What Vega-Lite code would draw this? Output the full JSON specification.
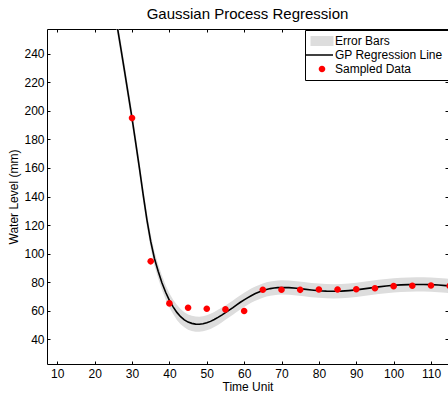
{
  "$schema": "https://vega.github.io/schema/vega-lite/v6.json",
  "width": 401,
  "height": 335,
  "autosize": {"type": "none"},
  "padding": {"left": 47, "top": 29, "right": 0, "bottom": 33},
  "background": "white",
  "title": {
    "text": "Gaussian Process Regression",
    "font": "Liberation Sans",
    "fontSize": 15,
    "fontWeight": "normal",
    "color": "black",
    "anchor": "middle",
    "frame": "group",
    "baseline": "alphabetic",
    "offset": -5
  },
  "config": {
    "view": {"stroke": null},
    "axis": {
      "labelFont": "Liberation Sans",
      "labelFontSize": 12,
      "labelColor": "black",
      "titleFont": "Liberation Sans",
      "titleFontSize": 12,
      "titleFontWeight": "normal",
      "titleColor": "black",
      "domainColor": "black",
      "domainWidth": 1,
      "tickColor": "black",
      "tickSize": -3,
      "labelPadding": 7,
      "grid": false
    },
    "axisX": {"titlePadding": 2},
    "axisY": {"titlePadding": 3, "labelPadding": 6}
  },
  "datasets": {
    "curve": [
      {"x": 25, "y": 276, "lo": 271, "hi": 281},
      {"x": 26, "y": 260, "lo": 255, "hi": 265},
      {"x": 27, "y": 244, "lo": 239, "hi": 249},
      {"x": 28, "y": 228, "lo": 223, "hi": 233},
      {"x": 29, "y": 211.5, "lo": 206.5, "hi": 216.5},
      {"x": 30, "y": 195, "lo": 190, "hi": 200},
      {"x": 31, "y": 177.5, "lo": 172.5, "hi": 182.5},
      {"x": 32, "y": 159.5, "lo": 154.5, "hi": 164.5},
      {"x": 33, "y": 141, "lo": 136, "hi": 146},
      {"x": 34, "y": 123.5, "lo": 118.5, "hi": 128.5},
      {"x": 35, "y": 108.5, "lo": 103.5, "hi": 113.5},
      {"x": 36, "y": 96.5, "lo": 91.5, "hi": 101.5},
      {"x": 37, "y": 87.5, "lo": 82.5, "hi": 92.5},
      {"x": 38, "y": 79.5, "lo": 74.5, "hi": 84.5},
      {"x": 39, "y": 72.8, "lo": 67.8, "hi": 77.8},
      {"x": 40, "y": 67.2, "lo": 62.2, "hi": 72.2},
      {"x": 41, "y": 62.6, "lo": 57.6, "hi": 67.6},
      {"x": 42, "y": 58.7, "lo": 53.4, "hi": 64},
      {"x": 43, "y": 55.7, "lo": 50.4, "hi": 61},
      {"x": 44, "y": 53.5, "lo": 48.2, "hi": 58.8},
      {"x": 45, "y": 51.9, "lo": 46.6, "hi": 57.2},
      {"x": 46, "y": 51, "lo": 45.7, "hi": 56.3},
      {"x": 47, "y": 50.5, "lo": 45.2, "hi": 55.8},
      {"x": 48, "y": 50.4, "lo": 45.1, "hi": 55.7},
      {"x": 49, "y": 50.7, "lo": 45.4, "hi": 56},
      {"x": 50, "y": 51.4, "lo": 46.1, "hi": 56.7},
      {"x": 51, "y": 52.4, "lo": 47.1, "hi": 57.7},
      {"x": 52, "y": 53.7, "lo": 48.4, "hi": 59},
      {"x": 53, "y": 55.2, "lo": 49.9, "hi": 60.5},
      {"x": 54, "y": 56.8, "lo": 51.6, "hi": 62},
      {"x": 55, "y": 58.5, "lo": 53.5, "hi": 63.5},
      {"x": 56, "y": 60.3, "lo": 55.3, "hi": 65.3},
      {"x": 57, "y": 62.1, "lo": 57.1, "hi": 67.1},
      {"x": 58, "y": 64, "lo": 59, "hi": 69},
      {"x": 59, "y": 65.8, "lo": 60.8, "hi": 70.8},
      {"x": 60, "y": 67.5, "lo": 62.5, "hi": 72.5},
      {"x": 61, "y": 69.1, "lo": 64.1, "hi": 74.1},
      {"x": 62, "y": 70.6, "lo": 65.6, "hi": 75.6},
      {"x": 63, "y": 71.9, "lo": 66.9, "hi": 76.9},
      {"x": 64, "y": 73, "lo": 68, "hi": 78},
      {"x": 65, "y": 74, "lo": 69, "hi": 79},
      {"x": 66, "y": 74.8, "lo": 69.8, "hi": 79.8},
      {"x": 67, "y": 75.4, "lo": 70.4, "hi": 80.4},
      {"x": 68, "y": 75.8, "lo": 70.8, "hi": 80.8},
      {"x": 69, "y": 76.1, "lo": 71.1, "hi": 81.1},
      {"x": 70, "y": 76.2, "lo": 71.2, "hi": 81.2},
      {"x": 72, "y": 76.1, "lo": 71.1, "hi": 81.1},
      {"x": 74, "y": 75.6, "lo": 70.6, "hi": 80.6},
      {"x": 76, "y": 75, "lo": 70, "hi": 80},
      {"x": 78, "y": 74.4, "lo": 69.4, "hi": 79.4},
      {"x": 80, "y": 73.9, "lo": 68.9, "hi": 78.9},
      {"x": 82, "y": 73.6, "lo": 68.6, "hi": 78.6},
      {"x": 84, "y": 73.5, "lo": 68.5, "hi": 78.5},
      {"x": 86, "y": 73.6, "lo": 68.6, "hi": 78.6},
      {"x": 88, "y": 74, "lo": 69, "hi": 79},
      {"x": 90, "y": 74.5, "lo": 69.5, "hi": 79.5},
      {"x": 92, "y": 75.2, "lo": 70.2, "hi": 80.2},
      {"x": 94, "y": 75.9, "lo": 70.9, "hi": 80.9},
      {"x": 96, "y": 76.6, "lo": 71.6, "hi": 81.6},
      {"x": 98, "y": 77.2, "lo": 72.2, "hi": 82.2},
      {"x": 100, "y": 77.7, "lo": 72.7, "hi": 82.7},
      {"x": 102, "y": 78, "lo": 73, "hi": 83},
      {"x": 104, "y": 78.2, "lo": 73.2, "hi": 83.2},
      {"x": 106, "y": 78.3, "lo": 73.3, "hi": 83.3},
      {"x": 108, "y": 78.3, "lo": 73.3, "hi": 83.3},
      {"x": 110, "y": 78.2, "lo": 73.2, "hi": 83.2},
      {"x": 112, "y": 77.9, "lo": 72.9, "hi": 82.9},
      {"x": 114, "y": 77.5, "lo": 72.5, "hi": 82.5},
      {"x": 116, "y": 77, "lo": 72, "hi": 82}
    ],
    "pts": [
      {"x": 30, "y": 195, "s": "Sampled Data"},
      {"x": 35, "y": 94.5, "s": "Sampled Data"},
      {"x": 40, "y": 65, "s": "Sampled Data"},
      {"x": 45, "y": 62, "s": "Sampled Data"},
      {"x": 50, "y": 61.3, "s": "Sampled Data"},
      {"x": 55, "y": 60.8, "s": "Sampled Data"},
      {"x": 60, "y": 59.7, "s": "Sampled Data"},
      {"x": 65, "y": 74.6, "s": "Sampled Data"},
      {"x": 70, "y": 74.6, "s": "Sampled Data"},
      {"x": 75, "y": 74.5, "s": "Sampled Data"},
      {"x": 80, "y": 74.8, "s": "Sampled Data"},
      {"x": 85, "y": 74.8, "s": "Sampled Data"},
      {"x": 90, "y": 74.9, "s": "Sampled Data"},
      {"x": 95, "y": 75.6, "s": "Sampled Data"},
      {"x": 100, "y": 77.1, "s": "Sampled Data"},
      {"x": 105, "y": 77.4, "s": "Sampled Data"},
      {"x": 110, "y": 77.6, "s": "Sampled Data"},
      {"x": 115, "y": 77.3, "s": "Sampled Data"}
    ]
  },
  "layer": [
    {
      "data": {"name": "curve"},
      "mark": {"type": "area", "color": "#dddddd", "clip": true},
      "encoding": {
        "x": {
          "field": "x", "type": "quantitative",
          "scale": {"domain": [7.25, 114.55], "nice": false, "zero": false},
          "axis": {"orient": "bottom", "values": [10, 20, 30, 40, 50, 60, 70, 80, 90, 100, 110], "title": "Time Unit"}
        },
        "y": {
          "field": "lo", "type": "quantitative",
          "scale": {"domain": [22.5, 257.5], "nice": false, "zero": false},
          "axis": {"orient": "left", "values": [40, 60, 80, 100, 120, 140, 160, 180, 200, 220, 240], "title": "Water Level (mm)"}
        },
        "y2": {"field": "hi"}
      }
    },
    {
      "data": {"name": "curve"},
      "mark": {"type": "line", "color": "black", "strokeWidth": 1.6, "clip": true},
      "encoding": {
        "x": {"field": "x", "type": "quantitative", "axis": null},
        "y": {"field": "y", "type": "quantitative", "axis": null}
      }
    },
    {
      "data": {"name": "pts"},
      "mark": {"type": "point", "filled": true, "opacity": 1, "size": 100},
      "encoding": {
        "x": {"field": "x", "type": "quantitative", "axis": null},
        "y": {"field": "y", "type": "quantitative", "axis": null},
        "color": {
          "field": "s", "type": "nominal",
          "scale": {"domain": ["Error Bars", "GP Regression Line", "Sampled Data"], "range": ["#dddddd", "#000000", "#ff0000"]},
          "legend": {"orient": "none", "legendX": 258, "legendY": 1, "title": null, "strokeColor": "black", "fillColor": "white", "padding": 5, "labelFont": "Liberation Sans", "labelFontSize": 12, "labelColor": "black", "symbolSize": 100, "symbolStrokeWidth": 0, "symbolOffset": 6, "labelOffset": 7, "rowPadding": 2}
        },
        "shape": {
          "field": "s", "type": "nominal",
          "scale": {"domain": ["Error Bars", "GP Regression Line", "Sampled Data"], "range": ["M-2.3,-1H2.3V1H-2.3Z", "M-3.2,-0.15H2.2V0.15H-3.2Z", "M-0.66,0A0.66,0.66,0,1,1,0.66,0A0.66,0.66,0,1,1,-0.66,0Z"]},
          "legend": {"orient": "none", "legendX": 258, "legendY": 1, "title": null, "strokeColor": "black", "fillColor": "white", "padding": 5, "labelFont": "Liberation Sans", "labelFontSize": 12, "labelColor": "black", "symbolSize": 100, "symbolStrokeWidth": 0, "symbolOffset": 6, "labelOffset": 7, "rowPadding": 2}
        }
      }
    },
    {
      "data": {"name": "pts"},
      "mark": {"type": "point", "opacity": 0},
      "encoding": {
        "x": {"field": "x", "type": "quantitative", "axis": {"orient": "top", "labels": false, "title": null, "values": [10, 20, 30, 40, 50, 60, 70, 80, 90, 100, 110]}},
        "y": {"field": "y", "type": "quantitative", "axis": {"orient": "right", "labels": false, "title": null, "values": [40, 60, 80, 100, 120, 140, 160, 180, 200, 220, 240]}}
      }
    }
  ],
  "resolve": {"axis": {"x": "independent", "y": "independent"}}
}
